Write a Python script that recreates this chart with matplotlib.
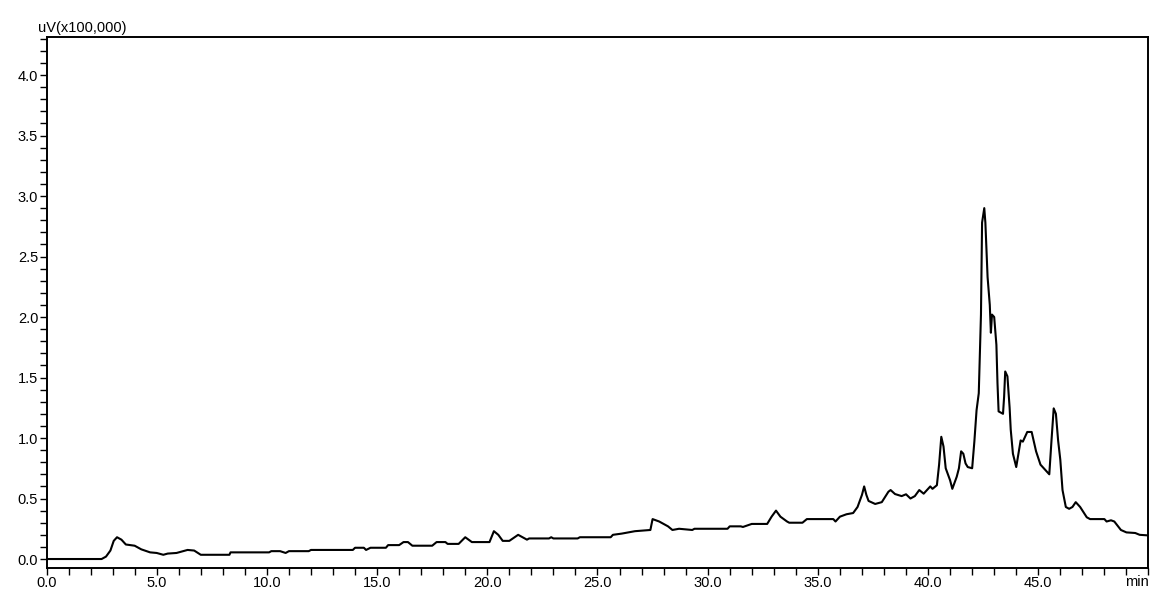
import matplotlib.pyplot as plt
from matplotlib.ticker import MultipleLocator

# Chromatogram trace, time in min, signal in uV x 100,000
time = [0.0, 2.5, 2.7, 2.9, 3.05, 3.2, 3.4, 3.6, 4.0, 4.3, 4.7, 5.0, 5.3, 5.5,
        5.9, 6.2, 6.4, 6.7, 7.0, 8.3, 8.35, 10.1, 10.2, 10.6, 10.85, 11.0,
        11.9, 12.0, 13.9, 14.0, 14.4, 14.5, 14.7, 15.4, 15.5, 16.0, 16.2,
        16.4, 16.6, 17.5, 17.7, 18.1, 18.2, 18.7, 19.0, 19.3, 20.1, 20.3,
        20.5, 20.7, 21.0, 21.4, 21.8, 21.9, 22.8, 22.9, 23.0, 24.1, 24.2,
        25.6, 25.7, 26.1, 26.7, 27.4, 27.5, 27.8, 28.2, 28.4, 28.7, 29.3,
        29.4, 30.9, 31.0, 31.5, 31.6, 32.0, 32.7, 32.9, 33.1, 33.3, 33.6,
        33.7, 34.3, 34.5, 35.7, 35.8, 36.0, 36.3, 36.6, 36.8, 37.0, 37.1,
        37.2, 37.3, 37.6, 37.9, 38.2, 38.3, 38.5, 38.8, 39.0, 39.2, 39.4,
        39.6, 39.8, 40.1, 40.2, 40.4, 40.5, 40.6, 40.7, 40.8, 41.0, 41.1,
        41.3, 41.4, 41.5, 41.6, 41.7, 41.8, 42.0, 42.1, 42.2, 42.3, 42.4,
        42.45, 42.55, 42.6, 42.7, 42.8, 42.85, 42.9, 43.0, 43.1, 43.15,
        43.2, 43.4, 43.45, 43.5, 43.6, 43.7, 43.75, 43.85, 44.0, 44.2, 44.3,
        44.5, 44.7, 44.9, 45.1, 45.3, 45.5, 45.6, 45.7, 45.8, 45.9, 46.0,
        46.1, 46.25, 46.4, 46.55, 46.7, 46.9, 47.2, 47.35, 48.0, 48.1, 48.3,
        48.45, 48.75, 49.0, 49.4, 49.6, 50.0]
signal = [0.0, 0.0, 0.02, 0.07, 0.15, 0.18, 0.16, 0.12, 0.11, 0.08, 0.055,
          0.05, 0.035, 0.045, 0.05, 0.065, 0.075, 0.07, 0.035, 0.035, 0.055,
          0.055, 0.065, 0.065, 0.05, 0.065, 0.065, 0.075, 0.075, 0.093, 0.093,
          0.075, 0.093, 0.093, 0.115, 0.115, 0.14, 0.14, 0.11, 0.11, 0.14,
          0.14, 0.125, 0.125, 0.18, 0.14, 0.14, 0.23, 0.20, 0.15, 0.15, 0.20,
          0.16, 0.17, 0.17, 0.18, 0.17, 0.17, 0.18, 0.18, 0.20, 0.21, 0.23,
          0.24, 0.33, 0.31, 0.27, 0.24, 0.25, 0.24, 0.25, 0.25, 0.27, 0.27,
          0.265, 0.29, 0.29, 0.35, 0.40, 0.35, 0.31, 0.30, 0.30, 0.33, 0.33,
          0.31, 0.35, 0.37, 0.38, 0.43, 0.53, 0.60, 0.53, 0.48, 0.455, 0.47,
          0.556, 0.57, 0.537, 0.52, 0.535, 0.50, 0.52, 0.57, 0.54, 0.60, 0.58,
          0.61, 0.78, 1.01, 0.93, 0.75, 0.65, 0.58, 0.68, 0.75, 0.89, 0.87,
          0.79, 0.76, 0.75, 0.97, 1.23, 1.37, 2.02, 2.78, 2.90, 2.78, 2.33,
          2.10, 1.87, 2.02, 2.00, 1.77, 1.45, 1.22, 1.20, 1.34, 1.55, 1.51,
          1.25, 1.07, 0.87, 0.76, 0.98, 0.97, 1.05, 1.05, 0.89, 0.78, 0.74,
          0.70, 0.98, 1.245, 1.20, 0.98, 0.82, 0.57, 0.43, 0.415, 0.43, 0.47,
          0.43, 0.345, 0.33, 0.33, 0.31, 0.32, 0.31, 0.24, 0.22, 0.215, 0.20,
          0.195]

x_ticks = [0, 5, 10, 15, 20, 25, 30, 35, 40, 45]
x_labels = ['0.0', '5.0', '10.0', '15.0', '20.0', '25.0', '30.0', '35.0',
            '40.0', '45.0']
y_ticks = [0.0, 0.5, 1.0, 1.5, 2.0, 2.5, 3.0, 3.5, 4.0]

plt.rcParams['font.family'] = ['Liberation Sans', 'DejaVu Sans']

fig = plt.figure(figsize=(11.51, 5.99), dpi=100)
ax = fig.add_axes([0.0404, 0.0518, 0.9574, 0.8864])

ax.plot(time, signal, color='black', linewidth=1.5)

ax.set_xlim(0, 50)
ax.set_ylim(-0.074, 4.314)

ax.set_xticks(x_ticks)
ax.set_xticklabels(x_labels)
ax.xaxis.set_minor_locator(MultipleLocator(1))
ax.set_yticks(y_ticks)
ax.set_yticklabels(['%.1f' % v for v in y_ticks])
ax.yaxis.set_minor_locator(MultipleLocator(0.1))

ax.tick_params(which='both', direction='out', length=5, width=1,
               color='black', labelsize=10.5, pad=1)
for side in ax.spines.values():
    side.set_linewidth(1.4)

ax.text(50, -0.13, 'min', ha='right', va='top', fontsize=10.5)
fig.text(0.033, 0.938 + 0.004, 'uV(x100,000)', ha='left', va='bottom',
         fontsize=10.5)

plt.savefig('out.png', dpi=100)
